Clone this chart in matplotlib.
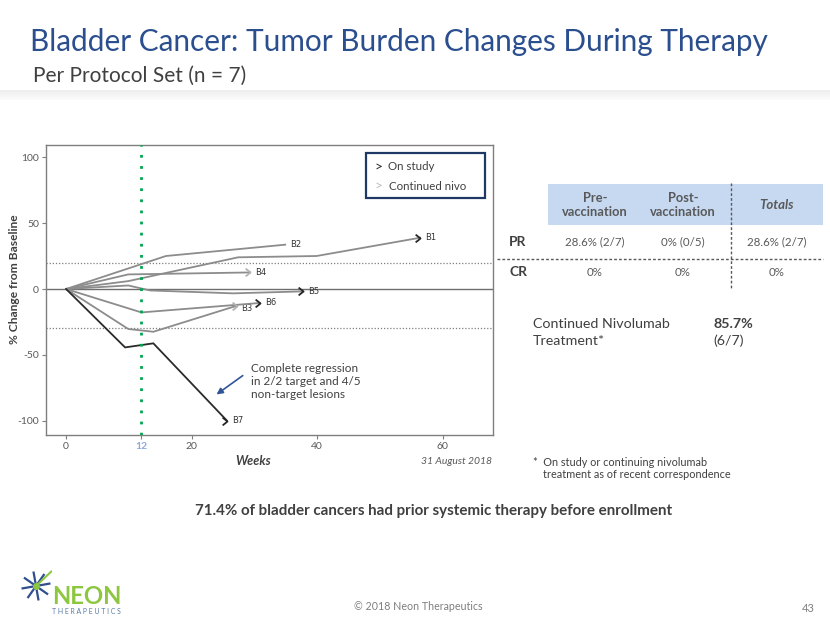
import matplotlib
matplotlib.use("Agg")
import matplotlib.pyplot as plt
from matplotlib.patches import Rectangle
from matplotlib.path import Path
import numpy as np

plt.rcParams['font.family'] = ['Lato', 'DejaVu Sans']

# ---------------- data ----------------
patients = ['B1', 'B2', 'B3', 'B4', 'B5', 'B6', 'B7']
weeks_B1 = [0, 9.9, 27.4, 39.9, 56.4]
pct_B1 = [0, 6.0, 24.1, 25.1, 39.0]
weeks_B2 = [0, 15.9, 34.9]
pct_B2 = [0, 25.1, 33.7]
weeks_B3 = [0, 9.9, 13.9, 27.2]
pct_B3 = [0, -30.4, -32.5, -12.7]
weeks_B4 = [0, 9.9, 29.3]
pct_B4 = [0, 11.1, 12.6]
weeks_B5 = [0, 9.9, 13.4, 26.6, 37.8]
pct_B5 = [0, 2.7, -1.1, -3.3, -1.8]
weeks_B6 = [0, 12.0, 30.9]
pct_B6 = [0, -17.8, -10.6]
weeks_B7 = [0, 9.4, 13.9, 25.6]
pct_B7 = [0, -44.4, -41.3, -100.0]
status = ['on', None, 'cont', 'cont', 'on', 'on', 'on']
thresholds = [20, -30]
vaccination_week = 12
x_ticks = [0, 12, 20, 40, 60]
y_ticks = [-100, -50, 0, 50, 100]

table_cols = ['Pre-\nvaccination', 'Post-\nvaccination', 'Totals']
table_rows = ['PR', 'CR']
table_PR = ['28.6% (2/7)', '0% (0/5)', '28.6% (2/7)']
table_CR = ['0%', '0%', '0%']

series_weeks = [weeks_B1, weeks_B2, weeks_B3, weeks_B4, weeks_B5, weeks_B6, weeks_B7]
series_pct = [pct_B1, pct_B2, pct_B3, pct_B4, pct_B5, pct_B6, pct_B7]

# ---------------- figure ----------------
W, H = 830, 623
fig = plt.figure(figsize=(W / 100, H / 100), dpi=100)
fig.patch.set_facecolor('white')


def fx(px):
    return px / W


def fy(py):
    return 1 - py / H


def T(px, py, s, **kw):
    return fig.text(fx(px), fy(py), s, **kw)


renderer = fig.canvas.get_renderer()


def fit_w(t, target):
    w = t.get_window_extent(renderer).width
    t.set_fontsize(t.get_fontsize() * target / w)


def fit_h(t, target):
    h = t.get_window_extent(renderer).height
    t.set_fontsize(t.get_fontsize() * target / h)


# title band shadow
band = fig.add_axes([0, fy(100), 1, 10 / H])
grad = np.linspace(0.93, 0.985, 20).reshape(-1, 1)
band.imshow(grad, aspect='auto', cmap='gray', vmin=0, vmax=1, extent=(0, 1, 0, 1))
band.axis('off')

# title / subtitle
t = T(30, 42, 'Bladder Cancer: Tumor Burden Changes During Therapy', color='#2B4F8E',
      fontsize=20, ha='left', va='center')
fit_w(t, 738)
t = T(33, 76, 'Per Protocol Set (n = 7)', color='#404040', fontsize=14, ha='left', va='center')
fit_w(t, 214)

# ---------------- chart ----------------
ax = fig.add_axes([fx(46), fy(435), (493 - 46) / W, (435 - 145) / H])
ax.set_xlim(-3.2, 68)
ax.set_ylim(-111, 109.5)

for th in thresholds:
    ax.axhline(th, color='#7f7f7f', lw=0.9, ls=(0, (1, 1.5)), zorder=1)
ax.axhline(0, color='#6e6e6e', lw=1.0, zorder=1)
ax.axvline(vaccination_week, color='#00A651', lw=2.0, ls=(0, (1, 3)), zorder=4)

chev = Path([(-1, 0.8), (0, 0), (-1, -0.8)], [Path.MOVETO, Path.LINETO, Path.LINETO])
label_off = {'B3': (4, -3)}
for name, wk, pc, st in zip(patients, series_weeks, series_pct, status):
    col = '#2b2b2b' if name == 'B7' else '#8c8c8c'
    ax.plot(wk, pc, color=col, lw=1.3, zorder=3, solid_joinstyle='miter')
    if st is not None:
        mcol = '#262626' if st == 'on' else '#b3b3b3'
        ax.plot([wk[-1]], [pc[-1]], marker=chev, ms=7, mew=1.3, mec=mcol,
                mfc='none', ls='none', zorder=5)
    dx, dy = label_off.get(name, (5, 0))
    ax.annotate(name, xy=(wk[-1], pc[-1]), xytext=(dx * 0.72, dy * 0.72),
                textcoords='offset points', ha='left', va='center',
                fontsize=6, color='#333333', family=['Liberation Sans Narrow', 'DejaVu Sans'])

ax.set_xticks(x_ticks)
ax.set_xticklabels([str(v) for v in x_ticks])
ax.set_yticks(y_ticks)
ax.set_yticklabels([str(v) for v in y_ticks])
ax.tick_params(axis='both', length=3, width=0.8, color='#7f7f7f', labelsize=7.5,
               labelcolor='#595959', pad=2)
for lbl in ax.get_xticklabels():
    if lbl.get_text() == str(vaccination_week):
        lbl.set_color('#8EA9DB')
        lbl.set_fontweight('bold')
for sp in ax.spines.values():
    sp.set_color('#7f7f7f')
    sp.set_linewidth(1.0)

# annotation
ax.annotate('', xy=(23.6, -81.4), xytext=(28.5, -64.6),
            arrowprops=dict(arrowstyle='-|>', color='#2F5597', lw=1.2, mutation_scale=9))
ax.text(29.5, -70.3, 'Complete regression\nin 2/2 target and 4/5\nnon-target lesions',
        ha='left', va='center', fontsize=8.5, color='#404040', linespacing=1.2)

# legend box
fig.patches.append(Rectangle((fx(366), fy(198)), (485 - 366) / W, (198 - 153) / H,
                             transform=fig.transFigure, fill=False,
                             edgecolor='#1F3864', lw=1.6, zorder=6))
T(378, 167, '>', color='#262626', fontsize=10, ha='center', va='center')
T(388, 167, 'On study', color='#404040', fontsize=8.3, ha='left', va='center')
T(378, 186, '>', color='#bfbfbf', fontsize=10, ha='center', va='center')
T(389, 186, 'Continued nivo', color='#404040', fontsize=8.3, ha='left', va='center')

# axis labels
t = T(14, 279, '% Change from Baseline', rotation=90, fontweight='bold', color='#404040',
      fontsize=9.5, ha='center', va='center')
fit_h(t, 130)
T(253, 461, 'Weeks', fontweight='bold', style='italic', color='#404040', fontsize=9,
  ha='center', va='center')
T(492, 461, '31 August 2018', style='italic', color='#595959', fontsize=7.5,
  ha='right', va='center')

# ---------------- table ----------------
fig.patches.append(Rectangle((fx(548), fy(225)), (823 - 548) / W, (225 - 184) / H,
                             transform=fig.transFigure, facecolor='#C6D9F1',
                             edgecolor='none', zorder=0))
col_x = [595, 683, 777]
for i, (cx, lab) in enumerate(zip(col_x, table_cols)):
    if i < 2:
        T(cx, 205, lab, ha='center', va='center', fontweight='bold', fontsize=9.3,
          color='#595959', linespacing=1.25)
    else:
        T(cx, 205, lab, ha='center', va='center', fontweight='bold', style='italic',
          fontsize=9.5, color='#595959')
row_y = [242, 272]
for ry, rl, vals in zip(row_y, table_rows, [table_PR, table_CR]):
    T(518, ry, rl, ha='center', va='center', fontweight='bold', fontsize=10, color='#404040')
    for cx, v in zip(col_x, vals):
        T(cx, ry, v, ha='center', va='center', fontsize=8.3, color='#595959')
fig.add_artist(plt.Line2D([fx(497), fx(823)], [fy(259), fy(259)], transform=fig.transFigure,
                          color='#595959', lw=1.0, ls=(0, (2, 1.5))))
fig.add_artist(plt.Line2D([fx(731), fx(731)], [fy(183), fy(288)], transform=fig.transFigure,
                          color='#595959', lw=1.0, ls=(0, (2, 1.5))))

# continued nivolumab
T(533, 324, 'Continued Nivolumab', ha='left', va='center', fontsize=10.3, color='#404040')
T(533, 341, 'Treatment*', ha='left', va='center', fontsize=10.3, color='#404040')
T(713, 324, '85.7%', ha='left', va='center', fontsize=10.3, fontweight='bold', color='#404040')
T(713, 341, '(6/7)', ha='left', va='center', fontsize=10.3, color='#404040')

T(533, 462, '*  On study or continuing nivolumab', ha='left', va='center', fontsize=7.8,
  color='#404040')
T(543, 474, 'treatment as of recent correspondence', ha='left', va='center', fontsize=7.8,
  color='#404040')

t = T(434, 511, '71.4% of bladder cancers had prior systemic therapy before enrollment',
      ha='center', va='center', fontsize=11, fontweight='bold', color='#404040')
fit_w(t, 478)

# footer
t = T(354, 607, '\u00a9 2018 Neon Therapeutics', ha='left', va='center', fontsize=7.5,
      color='#7f7f7f')
fit_w(t, 127)
T(808, 609, '43', ha='center', va='center', fontsize=8, color='#7f7f7f')

# logo
lax = fig.add_axes([fx(20), fy(602), 32 / W, 32 / H])
lax.set_xlim(-1, 1)
lax.set_ylim(-1, 1)
lax.axis('off')
for ang in np.arange(0, 360, 45):
    a = np.deg2rad(ang + 10)
    lax.plot([0, 0.85 * np.cos(a)], [0, 0.85 * np.sin(a)], color='#2F4F8F', lw=1.6)
lax.plot([0, 0.95], [0, 0.9], color='#8DC63F', lw=1.5)
lax.plot([0], [0], marker='o', ms=4, color='#8DC63F')
t = T(52, 596, 'NEON', ha='left', va='center', fontsize=16, fontweight='bold', color='#8DC63F')
fit_w(t, 70)
t = T(52, 612, 'T H E R A P E U T I C S', ha='left', va='center', fontsize=4.5,
      color='#5B7BA6')
fit_w(t, 70)

fig.savefig('out.png', dpi=100)
